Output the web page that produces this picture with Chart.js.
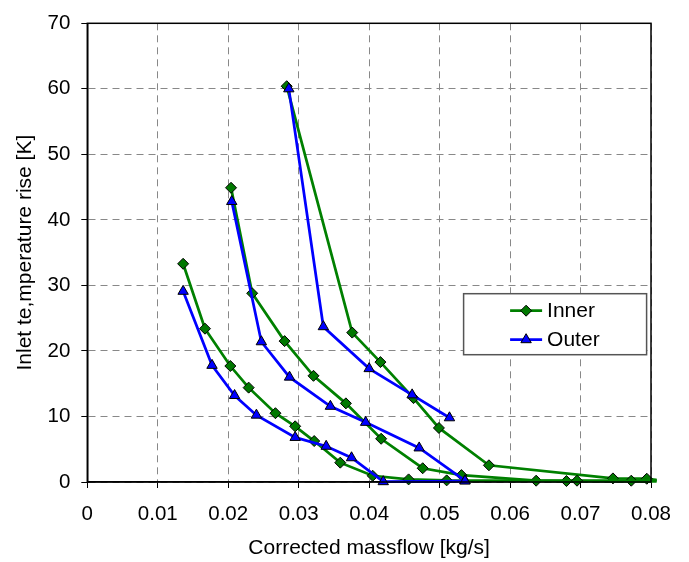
<!DOCTYPE html>
<html>
<head>
<meta charset="utf-8">
<script src="https://cdn.jsdelivr.net/npm/chart.js@4/dist/chart.umd.min.js"></script>
<style>
  html, body { margin: 0; padding: 0; background: #fff; }
  #wrap { width: 689px; height: 562px; }
</style>
</head>
<body>
<div id="wrap"><canvas id="c" width="689" height="562"></canvas></div>
<script>
// ---- data ----
const innerX1 = [0.0136, 0.0167, 0.0203, 0.0229, 0.0267, 0.0295, 0.0322, 0.0359, 0.0405, 0.0456, 0.0510, 0.0695, 0.0808];
const innerY1 = [33.3, 23.4, 17.7, 14.4, 10.5, 8.5, 6.25, 2.95, 0.95, 0.4, 0.25, 0.2, 0.1];
const innerX2 = [0.0204, 0.0234, 0.0280, 0.0321, 0.0367, 0.0417, 0.0476, 0.0531, 0.0637, 0.0680, 0.0772, 0.0808];
const innerY2 = [44.9, 28.8, 21.5, 16.2, 12.0, 6.6, 2.1, 1.05, 0.2, 0.15, 0.2, 0.3];
const innerX3 = [0.0283, 0.0376, 0.0416, 0.0463, 0.0499, 0.0570, 0.0746, 0.0794, 0.0808];
const innerY3 = [60.4, 22.8, 18.3, 12.8, 8.25, 2.55, 0.55, 0.5, 0.3];

const outerX1 = [0.0136, 0.0177, 0.0209, 0.0240, 0.0295, 0.0339, 0.0375, 0.0420, 0.0536];
const outerY1 = [29.1, 17.8, 13.2, 10.2, 6.8, 5.45, 3.7, 0.05, 0.15];
const outerX2 = [0.0205, 0.0247, 0.0287, 0.0345, 0.0395, 0.0471, 0.0536];
const outerY2 = [42.8, 21.4, 16.0, 11.55, 9.1, 5.2, 0.2];
const outerX3 = [0.0286, 0.0335, 0.0400, 0.0461, 0.0514];
const outerY3 = [60.0, 23.7, 17.3, 13.3, 9.8];

const seriesNames = ['Inner', 'Outer'];
const xTickLabels = ['0', '0.01', '0.02', '0.03', '0.04', '0.05', '0.06', '0.07', '0.08'];
const yTickLabels = ['0', '10', '20', '30', '40', '50', '60', '70'];
const xTitle = 'Corrected massflow [kg/s]';
const yTitle = 'Inlet te,mperature rise [K]';

// ---- build ----
const pts = (xs, ys) => xs.map((x, i) => ({ x: x, y: ys[i] }));
const GREEN = '#008000', BLUE = '#0000ff';
const FONT = "'Liberation Sans', Arial, sans-serif";
const X_MAX = 0.08;

function innerDs(xs, ys) {
  return {
    label: seriesNames[0], data: pts(xs, ys), showLine: true,
    borderColor: GREEN, backgroundColor: GREEN, borderWidth: 2.75,
    pointStyle: 'rectRot', pointBackgroundColor: '#007800', pointBorderColor: '#000', pointBorderWidth: 1,
    pointRadius: c => (c.raw && c.raw.x > X_MAX ? 0 : 5.5), pointHoverRadius: 5.5,
    order: 1, clip: false
  };
}
function outerDs(xs, ys) {
  return {
    label: seriesNames[1], data: pts(xs, ys), showLine: true,
    borderColor: BLUE, backgroundColor: BLUE, borderWidth: 2.75,
    pointStyle: 'triangle', pointBackgroundColor: BLUE, pointBorderColor: '#000', pointBorderWidth: 1,
    pointRadius: 6, pointHoverRadius: 6,
    order: 0, clip: false
  };
}

const boxPlugin = {
  id: 'boxAndLegend',
  afterDraw(chart) {
    const { ctx, chartArea: a } = chart;
    ctx.save();
    // frame
    ctx.strokeStyle = '#000'; ctx.lineWidth = 1.5;
    ctx.strokeRect(a.left, a.top, a.right - a.left, a.bottom - a.top);
    // legend box
    const bw = 183, bh = 61;
    const bx = a.right - 187.4, by = a.top + 270.4;
    ctx.fillStyle = '#fff'; ctx.fillRect(bx, by, bw, bh);
    ctx.strokeStyle = '#555'; ctx.lineWidth = 1.5; ctx.strokeRect(bx, by, bw, bh);
    const entries = [
      { name: seriesNames[0], color: GREEN, fill: '#007800', shape: 'diamond' },
      { name: seriesNames[1], color: BLUE, fill: BLUE, shape: 'triangle' }
    ];
    entries.forEach((e, i) => {
      const cy = by + 17 + i * 29;
      ctx.strokeStyle = e.color; ctx.lineWidth = 2.75;
      ctx.beginPath(); ctx.moveTo(bx + 46.5, cy); ctx.lineTo(bx + 78.5, cy); ctx.stroke();
      const mx = bx + 62.5;
      ctx.beginPath();
      if (e.shape === 'diamond') {
        const r = 5.5;
        ctx.moveTo(mx, cy - r); ctx.lineTo(mx + r, cy); ctx.lineTo(mx, cy + r); ctx.lineTo(mx - r, cy);
      } else {
        const r = 6;
        ctx.moveTo(mx, cy - r);
        ctx.lineTo(mx + r * Math.sin(2 * Math.PI / 3), cy - r * Math.cos(2 * Math.PI / 3));
        ctx.lineTo(mx + r * Math.sin(4 * Math.PI / 3), cy - r * Math.cos(4 * Math.PI / 3));
      }
      ctx.closePath();
      ctx.fillStyle = e.fill; ctx.fill();
      ctx.strokeStyle = '#000'; ctx.lineWidth = 1; ctx.stroke();
      ctx.fillStyle = '#000'; ctx.font = '21px ' + FONT;
      ctx.textBaseline = 'middle'; ctx.textAlign = 'left';
      ctx.fillText(e.name, bx + 83.5, cy + 1);
    });
    ctx.restore();
  }
};

new Chart(document.getElementById('c'), {
  type: 'scatter',
  data: {
    datasets: [
      innerDs(innerX1, innerY1), innerDs(innerX2, innerY2), innerDs(innerX3, innerY3),
      outerDs(outerX1, outerY1), outerDs(outerX2, outerY2), outerDs(outerX3, outerY3)
    ]
  },
  options: {
    responsive: false, devicePixelRatio: 1, animation: false,
    layout: { padding: { top: 15, right: 38, left: 0, bottom: 0 } },
    plugins: { legend: { display: false }, tooltip: { enabled: false } },
    scales: {
      x: {
        type: 'linear', min: 0, max: 0.08,
        afterFit: s => { s.height = 80; },
        ticks: {
          stepSize: 0.01, padding: 14, color: '#000', font: { family: FONT, size: 20.5 },
          callback: v => xTickLabels[Math.round(v / 0.01)]
        },
        grid: { color: '#888', lineWidth: 1, tickColor: '#000', tickLength: 6, tickWidth: 1 },
        border: { color: '#000', width: 1.5, dash: [7, 5] },
        title: { display: true, text: xTitle, color: '#000', font: { family: FONT, size: 21 }, padding: { top: 0, bottom: 1 } }
      },
      y: {
        type: 'linear', min: 0, max: 70,
        afterFit: s => { s.width = 87.3; },
        ticks: {
          stepSize: 10, padding: 11, color: '#000', font: { family: FONT, size: 20.5 },
          callback: v => yTickLabels[Math.round(v / 10)]
        },
        grid: { color: '#888', lineWidth: 1, tickColor: '#000', tickLength: 6, tickWidth: 1 },
        border: { color: '#000', width: 1.5, dash: [7, 5] },
        title: { display: true, text: yTitle, color: '#000', font: { family: FONT, size: 21 }, padding: { top: 13, bottom: 0 } }
      }
    }
  },
  plugins: [boxPlugin]
});
</script>
</body>
</html>
